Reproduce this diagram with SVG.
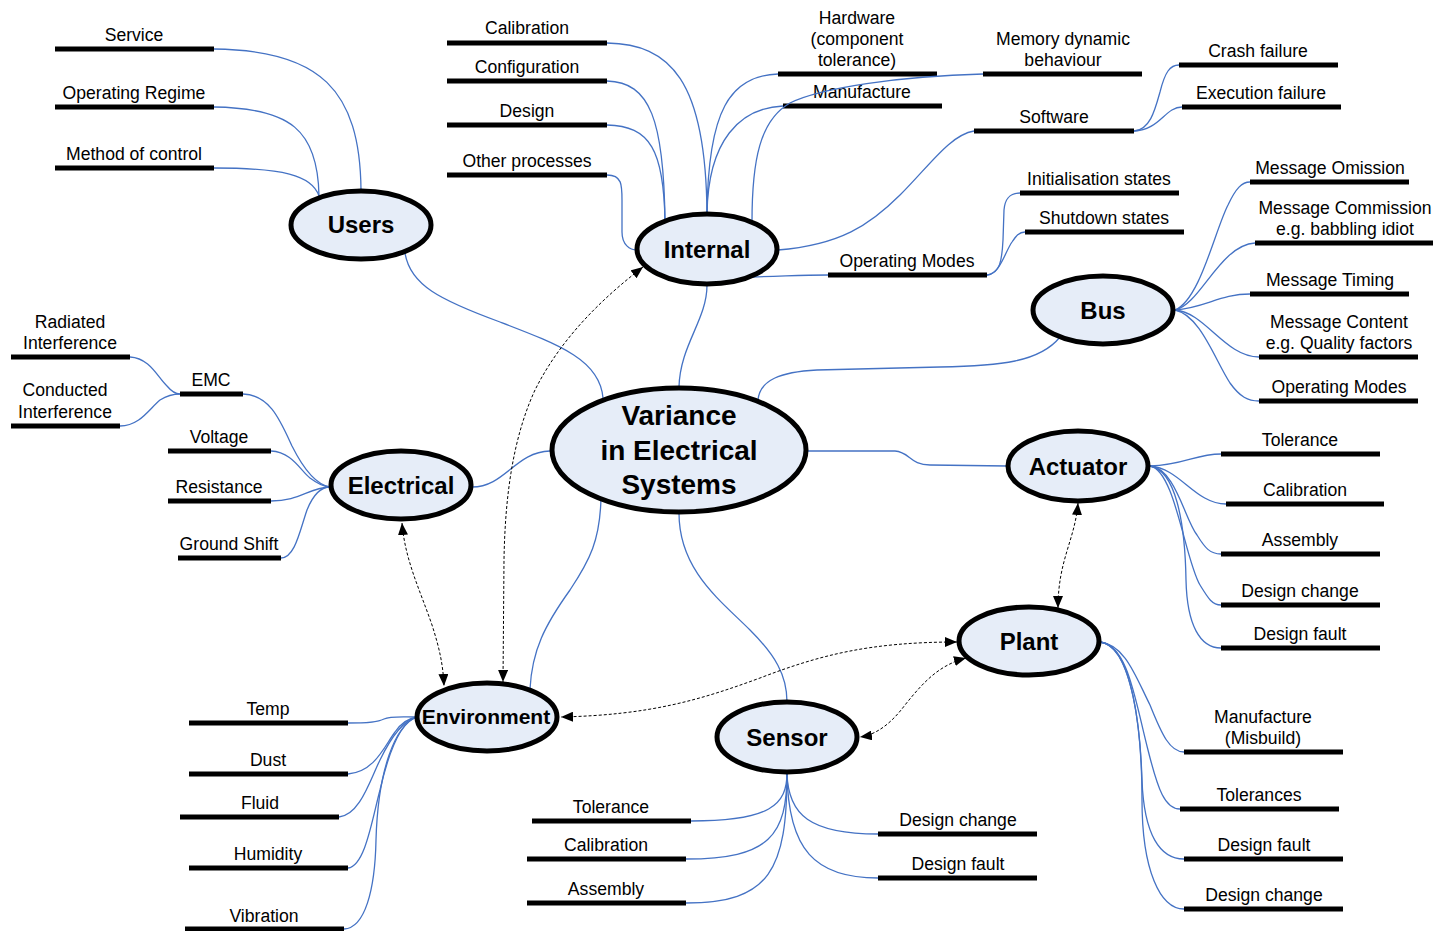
<svg xmlns="http://www.w3.org/2000/svg" width="1433" height="931" viewBox="0 0 1433 931">
<defs>
<style>
.bar{stroke:#000;stroke-width:5;fill:none}
.lbl{font-family:"Liberation Sans",Arial,sans-serif;font-size:17.6px;text-anchor:middle;fill:#000}
.node ellipse{fill:#e6edf8;stroke:#000;stroke-width:5}
.nl{font-family:"Liberation Sans",Arial,sans-serif;font-weight:bold;font-size:24px;text-anchor:middle;fill:#000}
.c{fill:none;stroke:#4472c4;stroke-width:1.3}
.d{fill:none;stroke:#000;stroke-width:1;stroke-dasharray:3 2;marker-start:url(#ah);marker-end:url(#ah)}
</style>
<marker id="ah" viewBox="0 0 12 10" refX="12" refY="5" markerWidth="12" markerHeight="10" markerUnits="userSpaceOnUse" orient="auto-start-reverse"><path d="M0,0 L12,5 L0,10 z" fill="#000"/></marker>
</defs>
<rect width="1433" height="931" fill="#fff"/>

<g id="leaves">
<g id="l-service"><line class="bar" x1="55" y1="49" x2="214" y2="49"/><text class="lbl" x="134" y="41">Service</text></g>
<g id="l-regime"><line class="bar" x1="55" y1="107" x2="214" y2="107"/><text class="lbl" x="134" y="99">Operating Regime</text></g>
<g id="l-method"><line class="bar" x1="55" y1="168" x2="214" y2="168"/><text class="lbl" x="134" y="160">Method of control</text></g>

<g id="l-int-cal"><line class="bar" x1="447" y1="43" x2="607" y2="43"/><text class="lbl" x="527" y="34">Calibration</text></g>
<g id="l-int-conf"><line class="bar" x1="447" y1="81" x2="607" y2="81"/><text class="lbl" x="527" y="73">Configuration</text></g>
<g id="l-int-design"><line class="bar" x1="447" y1="125" x2="607" y2="125"/><text class="lbl" x="527" y="117">Design</text></g>
<g id="l-int-other"><line class="bar" x1="447" y1="175" x2="607" y2="175"/><text class="lbl" x="527" y="167">Other processes</text></g>
<g id="l-hardware"><line class="bar" x1="778" y1="74" x2="937" y2="74"/><text class="lbl" x="857" y="24">Hardware</text><text class="lbl" x="857" y="45">(component</text><text class="lbl" x="857" y="66">tolerance)</text></g>
<g id="l-manufacture"><line class="bar" x1="783" y1="106" x2="942" y2="106"/><text class="lbl" x="862" y="98">Manufacture</text></g>
<g id="l-memory"><line class="bar" x1="983" y1="74" x2="1142" y2="74"/><text class="lbl" x="1063" y="45">Memory dynamic</text><text class="lbl" x="1063" y="66">behaviour</text></g>
<g id="l-software"><line class="bar" x1="974" y1="131" x2="1134" y2="131"/><text class="lbl" x="1054" y="123">Software</text></g>
<g id="l-crash"><line class="bar" x1="1179" y1="65" x2="1338" y2="65"/><text class="lbl" x="1258" y="57">Crash failure</text></g>
<g id="l-exec"><line class="bar" x1="1182" y1="107" x2="1341" y2="107"/><text class="lbl" x="1261" y="99">Execution failure</text></g>
<g id="l-int-opmodes"><line class="bar" x1="828" y1="275" x2="987" y2="275"/><text class="lbl" x="907" y="267">Operating Modes</text></g>
<g id="l-init"><line class="bar" x1="1020" y1="193" x2="1179" y2="193"/><text class="lbl" x="1099" y="185">Initialisation states</text></g>
<g id="l-shutdown"><line class="bar" x1="1025" y1="232" x2="1184" y2="232"/><text class="lbl" x="1104" y="224">Shutdown states</text></g>

<g id="l-omission"><line class="bar" x1="1250" y1="182" x2="1409" y2="182"/><text class="lbl" x="1330" y="174">Message Omission</text></g>
<g id="l-commission"><line class="bar" x1="1255" y1="243" x2="1433" y2="243"/><text class="lbl" x="1345" y="214">Message Commission</text><text class="lbl" x="1345" y="235">e.g. babbling idiot</text></g>
<g id="l-timing"><line class="bar" x1="1250" y1="294" x2="1409" y2="294"/><text class="lbl" x="1330" y="286">Message Timing</text></g>
<g id="l-content"><line class="bar" x1="1259" y1="357" x2="1418" y2="357"/><text class="lbl" x="1339" y="328">Message Content</text><text class="lbl" x="1339" y="349">e.g. Quality factors</text></g>
<g id="l-bus-opmodes"><line class="bar" x1="1259" y1="401" x2="1418" y2="401"/><text class="lbl" x="1339" y="393">Operating Modes</text></g>

<g id="l-radiated"><line class="bar" x1="11" y1="357" x2="130" y2="357"/><text class="lbl" x="70" y="328">Radiated</text><text class="lbl" x="70" y="349">Interference</text></g>
<g id="l-conducted"><line class="bar" x1="11" y1="426" x2="120" y2="426"/><text class="lbl" x="65" y="396">Conducted</text><text class="lbl" x="65" y="418">Interference</text></g>
<g id="l-emc"><line class="bar" x1="180" y1="394" x2="243" y2="394"/><text class="lbl" x="211" y="386">EMC</text></g>
<g id="l-voltage"><line class="bar" x1="168" y1="451" x2="271" y2="451"/><text class="lbl" x="219" y="443">Voltage</text></g>
<g id="l-resistance"><line class="bar" x1="168" y1="501" x2="271" y2="501"/><text class="lbl" x="219" y="493">Resistance</text></g>
<g id="l-ground"><line class="bar" x1="178" y1="558" x2="281" y2="558"/><text class="lbl" x="229" y="550">Ground Shift</text></g>

<g id="l-act-tol"><line class="bar" x1="1221" y1="454" x2="1380" y2="454"/><text class="lbl" x="1300" y="446">Tolerance</text></g>
<g id="l-act-cal"><line class="bar" x1="1226" y1="504" x2="1384" y2="504"/><text class="lbl" x="1305" y="496">Calibration</text></g>
<g id="l-act-asm"><line class="bar" x1="1221" y1="554" x2="1380" y2="554"/><text class="lbl" x="1300" y="546">Assembly</text></g>
<g id="l-act-dchange"><line class="bar" x1="1221" y1="605" x2="1380" y2="605"/><text class="lbl" x="1300" y="597">Design change</text></g>
<g id="l-act-dfault"><line class="bar" x1="1221" y1="648" x2="1380" y2="648"/><text class="lbl" x="1300" y="640">Design fault</text></g>

<g id="l-misbuild"><line class="bar" x1="1184" y1="752" x2="1343" y2="752"/><text class="lbl" x="1263" y="723">Manufacture</text><text class="lbl" x="1263" y="744">(Misbuild)</text></g>
<g id="l-tolerances"><line class="bar" x1="1180" y1="809" x2="1339" y2="809"/><text class="lbl" x="1259" y="801">Tolerances</text></g>
<g id="l-pl-dfault"><line class="bar" x1="1184" y1="859" x2="1343" y2="859"/><text class="lbl" x="1264" y="851">Design fault</text></g>
<g id="l-pl-dchange"><line class="bar" x1="1184" y1="909" x2="1343" y2="909"/><text class="lbl" x="1264" y="901">Design change</text></g>

<g id="l-temp"><line class="bar" x1="189" y1="723" x2="348" y2="723"/><text class="lbl" x="268" y="715">Temp</text></g>
<g id="l-dust"><line class="bar" x1="189" y1="774" x2="348" y2="774"/><text class="lbl" x="268" y="766">Dust</text></g>
<g id="l-fluid"><line class="bar" x1="180" y1="817" x2="339" y2="817"/><text class="lbl" x="260" y="809">Fluid</text></g>
<g id="l-humidity"><line class="bar" x1="189" y1="868" x2="348" y2="868"/><text class="lbl" x="268" y="860">Humidity</text></g>
<g id="l-vibration"><line class="bar" x1="185" y1="929" x2="344" y2="929"/><text class="lbl" x="264" y="922">Vibration</text></g>

<g id="l-sen-tol"><line class="bar" x1="532" y1="821" x2="691" y2="821"/><text class="lbl" x="611" y="813">Tolerance</text></g>
<g id="l-sen-cal"><line class="bar" x1="527" y1="859" x2="686" y2="859"/><text class="lbl" x="606" y="851">Calibration</text></g>
<g id="l-sen-asm"><line class="bar" x1="527" y1="903" x2="686" y2="903"/><text class="lbl" x="606" y="895">Assembly</text></g>
<g id="l-sen-dchange"><line class="bar" x1="878" y1="834" x2="1037" y2="834"/><text class="lbl" x="958" y="826">Design change</text></g>
<g id="l-sen-dfault"><line class="bar" x1="878" y1="878" x2="1037" y2="878"/><text class="lbl" x="958" y="870">Design fault</text></g>
</g>

<g id="connectors">
<path class="c" d="M214,49 C320,50 360,90 361,190"/>
<path class="c" d="M214,107 C290,108 318,130 319,196"/>
<path class="c" d="M214,168 C282,168 312,175 319,196"/>
<path class="c" d="M405,253 C410,285 440,300 500,322 C560,345 600,360 603,398"/>

<path class="c" d="M607,43 C670,44 706,80 707,214"/>
<path class="c" d="M607,81 C650,82 664,120 665,222"/>
<path class="c" d="M607,125 C650,126 664,150 665,222"/>
<path class="c" d="M607,175 C622,175 622,185 622,200 L622,232 C622,245 630,250 637,250"/>
<path class="c" d="M778,74 C730,76 708,110 707,214"/>
<path class="c" d="M783,106 C740,108 708,140 707,214"/>
<path class="c" d="M983,74 C900,76 820,88 790,103 C760,120 752,160 752,222"/>
<path class="c" d="M778,250 C840,245 870,225 900,195 C930,165 950,135 974,131"/>
<path class="c" d="M1134,131 C1150,130 1155,110 1160,92 C1165,72 1170,65 1179,65"/>
<path class="c" d="M1134,131 C1160,130 1165,107 1182,107"/>
<path class="c" d="M752,277 C790,276 800,275 828,275"/>
<path class="c" d="M987,275 C1000,274 1002,260 1003,240 L1004,210 C1005,198 1010,193 1020,193"/>
<path class="c" d="M987,275 C1000,274 1005,252 1012,242 C1016,236 1019,232 1025,232"/>
<path class="c" d="M707,285 C707,320 680,345 679,387"/>

<path class="c" d="M1175,310 C1200,300 1215,230 1228,205 C1236,188 1242,182 1250,182"/>
<path class="c" d="M1175,310 C1200,305 1220,245 1255,243"/>
<path class="c" d="M1175,310 C1205,308 1220,294 1250,294"/>
<path class="c" d="M1175,310 C1205,312 1225,357 1259,357"/>
<path class="c" d="M1175,310 C1200,315 1215,360 1230,383 C1240,397 1248,401 1259,401"/>
<path class="c" d="M758,400 C760,380 780,372 817,370 L940,367 C1000,366 1040,362 1060,337"/>

<path class="c" d="M130,357 C150,358 158,378 167,386 C172,392 176,394 180,394"/>
<path class="c" d="M120,426 C140,426 150,408 160,400 C168,395 174,394 180,394"/>
<path class="c" d="M243,394 C270,395 280,420 292,446 C305,472 318,485 330,487"/>
<path class="c" d="M271,451 C292,452 300,470 310,478 C318,484 324,487 330,487"/>
<path class="c" d="M271,501 C300,501 308,488 330,487"/>
<path class="c" d="M281,558 C295,558 300,530 307,510 C313,495 320,487 330,487"/>
<path class="c" d="M472,487 C505,487 515,452 550,451"/>

<path class="c" d="M808,451 L895,451 C910,452 910,465 930,465 L1007,466"/>
<path class="c" d="M1150,466 C1185,465 1195,454 1221,454"/>
<path class="c" d="M1150,466 C1180,468 1195,504 1226,504"/>
<path class="c" d="M1150,466 C1175,468 1185,520 1197,535 C1205,548 1210,554 1221,554"/>
<path class="c" d="M1150,466 C1175,470 1185,560 1200,585 C1208,598 1212,605 1221,605"/>
<path class="c" d="M1150,466 C1175,470 1185,520 1186,580 C1187,625 1200,648 1221,648"/>

<path class="c" d="M1100,642 C1125,645 1135,675 1150,705 C1162,735 1170,752 1184,752"/>
<path class="c" d="M1100,642 C1128,645 1135,700 1148,750 C1158,790 1165,809 1180,809"/>
<path class="c" d="M1100,642 C1130,645 1140,720 1142,780 C1144,835 1160,859 1184,859"/>
<path class="c" d="M1100,642 C1132,645 1142,730 1142,800 C1142,870 1160,909 1184,909"/>

<path class="c" d="M601,498 C600,540 590,560 570,590 C545,625 532,650 530,689"/>
<path class="c" d="M679,513 C679,570 720,600 750,630 C775,655 787,675 787,702"/>

<path class="c" d="M348,723 C370,723 378,722 384,719 C390,716 400,717 417,717"/>
<path class="c" d="M348,774 C375,772 385,745 395,732 C402,722 410,718 417,717"/>
<path class="c" d="M339,817 C360,815 370,780 380,760 C392,735 405,720 417,717"/>
<path class="c" d="M348,868 C365,866 372,820 380,790 C388,755 400,722 417,717"/>
<path class="c" d="M344,929 C365,928 375,890 376,840 C378,770 395,725 417,717"/>

<path class="c" d="M787,773 C787,805 770,821 691,821"/>
<path class="c" d="M787,773 C787,835 770,859 686,859"/>
<path class="c" d="M787,773 C787,870 770,903 686,903"/>
<path class="c" d="M787,773 C788,815 810,834 878,834"/>
<path class="c" d="M787,773 C788,850 815,878 878,878"/>

<path class="d" d="M1078,503 C1075,540 1058,560 1058,608"/>
<path class="d" d="M966,658 C940,665 925,680 905,705 C890,725 875,735 860,737"/>
<path class="d" d="M957,642 C870,642 820,655 760,678 C700,700 650,715 561,717"/>
<path class="d" d="M402,523 C405,560 420,590 432,625 C440,650 443,665 444,686"/>
<path class="d" d="M643,267 C600,300 560,340 535,390 C512,440 505,500 504,560 L503,682"/>
</g>

<g id="n-users" class="node"><ellipse cx="361" cy="225" rx="70" ry="34"/><text class="nl" x="361" y="233">Users</text></g>
<g id="n-internal" class="node"><ellipse cx="707" cy="249" rx="70" ry="35"/><text class="nl" x="707" y="258">Internal</text></g>
<g id="n-bus" class="node"><ellipse cx="1103" cy="310" rx="70" ry="34"/><text class="nl" x="1103" y="319">Bus</text></g>
<g id="n-central" class="node"><ellipse cx="679" cy="450" rx="127" ry="62"/><text class="nl" style="font-size:28px" x="679" y="425">Variance</text><text class="nl" style="font-size:28px" x="679" y="460">in Electrical</text><text class="nl" style="font-size:28px" x="679" y="494">Systems</text></g>
<g id="n-electrical" class="node"><ellipse cx="401" cy="485" rx="70" ry="34"/><text class="nl" x="401" y="494">Electrical</text></g>
<g id="n-actuator" class="node"><ellipse cx="1078" cy="466" rx="70" ry="35"/><text class="nl" x="1078" y="475">Actuator</text></g>
<g id="n-plant" class="node"><ellipse cx="1029" cy="641" rx="70" ry="34"/><text class="nl" x="1029" y="650">Plant</text></g>
<g id="n-environment" class="node"><ellipse cx="487" cy="717" rx="70" ry="34"/><text class="nl" style="font-size:21px" x="486" y="724">Environment</text></g>
<g id="n-sensor" class="node"><ellipse cx="787" cy="737" rx="70" ry="35"/><text class="nl" x="787" y="746">Sensor</text></g>
</svg>
